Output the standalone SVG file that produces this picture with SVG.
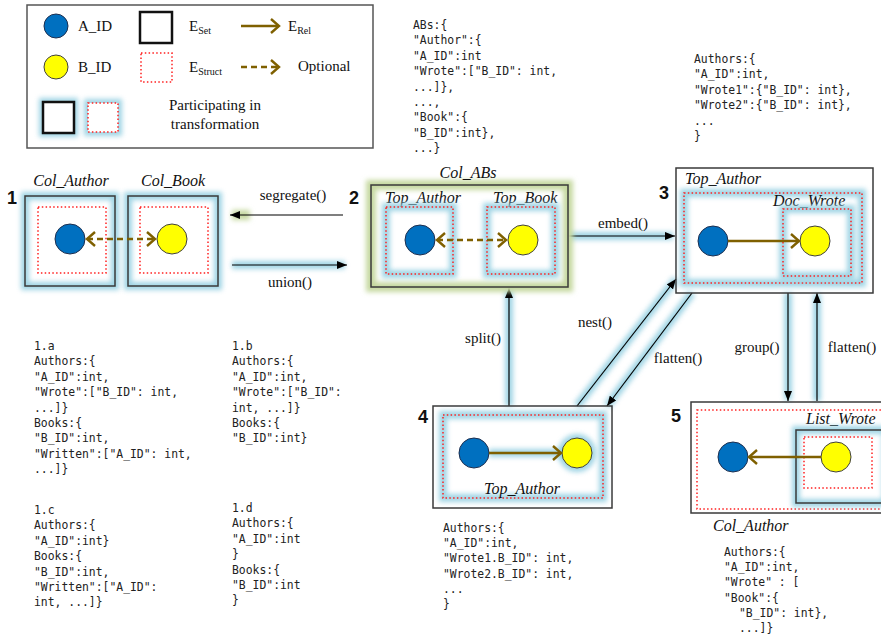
<svg xmlns="http://www.w3.org/2000/svg" width="881" height="638" viewBox="0 0 881 638">
<style>
.glow{fill:none;stroke:#8FCDE0;stroke-width:8;filter:url(#blur);opacity:0.85}
.gglow{fill:none;stroke:#C6D9A0;stroke-width:10;filter:url(#blur)}
.set{fill:none;stroke:#3A3A3A;stroke-width:1.5}
.struct{fill:none;stroke:#FF2020;stroke-width:1.5;stroke-dasharray:1.5 2.3}
.a{fill:#0070C0;stroke:#1F2F4F;stroke-width:1}
.b{fill:#FFFF00;stroke:#404040;stroke-width:1}
.rel{stroke:#7F6000;stroke-width:2.4;fill:none;marker-end:url(#chev)}
.opt{stroke-dasharray:6 4;marker-start:url(#chev)}
.conn{stroke:#000;stroke-width:1.2;fill:none;marker-end:url(#ah)}
.lbl{font-family:"Liberation Serif",serif;font-size:15px;fill:#111}
.it{font-family:"Liberation Serif",serif;font-style:italic;font-size:16px;fill:#111}
.num{font-family:"Liberation Sans",sans-serif;font-weight:bold;font-size:18px;fill:#111}
.code{font-family:"DejaVu Sans Mono",monospace;font-size:11.4px;fill:#222}
</style>
<defs>
<filter id="blur" filterUnits="userSpaceOnUse" x="0" y="0" width="881" height="638"><feGaussianBlur stdDeviation="2.8"/></filter>
<marker id="ah" markerUnits="userSpaceOnUse" markerWidth="10" markerHeight="8" refX="10" refY="4" orient="auto"><path d="M0,0 L10,4 L0,8 z" fill="#000"/></marker>
<marker id="chev" markerUnits="userSpaceOnUse" markerWidth="12" markerHeight="16" refX="9" refY="8" orient="auto-start-reverse"><path d="M1,1 L9,8 L1,15" fill="none" stroke="#7F6000" stroke-width="2.4"/></marker>
</defs>

<g id="legend">
<rect x="27" y="5" width="346" height="143" fill="#fff" stroke="#555" stroke-width="1.5"/>
<circle class="a" cx="56" cy="26" r="12"/>
<text class="lbl" x="78" y="31" font-size="16">A_ID</text>
<circle class="b" cx="56" cy="67" r="12"/>
<text class="lbl" x="78" y="72" font-size="16">B_ID</text>
<rect x="140" y="12" width="32" height="31" fill="none" stroke="#111" stroke-width="2.5"/>
<text class="lbl" x="189" y="31" font-size="16">E<tspan font-size="10" dy="3">Set</tspan></text>
<rect class="struct" x="141" y="53" width="31" height="29"/>
<text class="lbl" x="189" y="72" font-size="16">E<tspan font-size="10" dy="3">Struct</tspan></text>
<line class="rel" x1="241" y1="26" x2="279" y2="26"/>
<text class="lbl" x="288" y="31" font-size="16">E<tspan font-size="10" dy="3">Rel</tspan></text>
<line class="rel" x1="241" y1="67" x2="279" y2="67" stroke-dasharray="6 4"/>
<text class="lbl" x="298" y="71" font-size="16">Optional</text>
<rect class="glow" x="43" y="102" width="31" height="31"/>
<rect x="43" y="102" width="31" height="31" fill="#fff" stroke="#111" stroke-width="2.5"/>
<rect class="glow" x="88" y="103" width="30" height="29"/>
<rect x="88" y="103" width="30" height="29" fill="#fff"/>
<rect class="struct" x="88" y="103" width="30" height="29"/>
<text class="lbl" x="215" y="110" font-size="16" text-anchor="middle">Participating in</text>
<text class="lbl" x="215" y="129" font-size="16" text-anchor="middle">transformation</text>
</g>

<g id="connectors">
<line class="gglow" x1="232" y1="215" x2="250" y2="215"/>
<line class="conn" x1="343" y1="215" x2="230" y2="215"/>
<line class="glow" x1="232" y1="265" x2="345" y2="265" stroke-width="6"/>
<line class="conn" x1="232" y1="265" x2="347" y2="265"/>
<line class="glow" x1="568" y1="236" x2="673" y2="236" stroke-width="6"/>
<line class="conn" x1="568" y1="236" x2="675" y2="236"/>
<line class="glow" x1="509" y1="406" x2="509" y2="289"/>
<line class="conn" x1="509" y1="406" x2="509" y2="288"/>
<line class="glow" x1="577" y1="406" x2="676" y2="279"/>
<line class="conn" x1="577" y1="406" x2="676" y2="279"/>
<line class="glow" x1="692" y1="293" x2="607" y2="406"/>
<line class="conn" x1="692" y1="293" x2="607" y2="406"/>
<line class="glow" x1="788" y1="293" x2="788" y2="400"/>
<line class="conn" x1="788" y1="293" x2="788" y2="401"/>
<line class="glow" x1="817" y1="401" x2="817" y2="294"/>
<line class="conn" x1="817" y1="401" x2="817" y2="293"/>
<text class="lbl" x="293" y="200" text-anchor="middle">segregate()</text>
<text class="lbl" x="290" y="287" text-anchor="middle">union()</text>
<text class="lbl" x="623" y="228" text-anchor="middle">embed()</text>
<text class="lbl" x="483" y="343" text-anchor="middle">split()</text>
<text class="lbl" x="595" y="327" text-anchor="middle">nest()</text>
<text class="lbl" x="678" y="363" text-anchor="middle">flatten()</text>
<text class="lbl" x="757" y="352" text-anchor="middle">group()</text>
<text class="lbl" x="852" y="352" text-anchor="middle">flatten()</text>
</g>

<g id="node1">
<text class="num" x="7" y="204">1</text>
<rect class="glow" x="25" y="196" width="90" height="90"/>
<rect x="25" y="196" width="90" height="90" fill="none" class="set"/>
<rect class="struct" x="38" y="207" width="68" height="66"/>
<rect class="glow" x="128" y="196" width="90" height="90"/>
<rect x="128" y="196" width="90" height="90" class="set"/>
<rect class="struct" x="140" y="207" width="68" height="66"/>
<circle class="a" cx="70" cy="239" r="15"/>
<circle class="b" cx="172" cy="239" r="15"/>
<line class="rel opt" x1="87" y1="239" x2="155" y2="239"/>
<text class="it" x="71" y="186" text-anchor="middle">Col_Author</text>
<text class="it" x="173" y="186" text-anchor="middle">Col_Book</text>
</g>

<g id="node2">
<text class="num" x="349" y="204">2</text>
<rect class="gglow" x="371" y="185" width="197" height="102"/>
<rect x="371" y="185" width="197" height="102" class="set"/>
<text class="it" x="468" y="178" text-anchor="middle">Col_ABs</text>
<text class="it" x="385" y="203" font-size="15">Top_Author</text>
<text class="it" x="493" y="203" font-size="15">Top_Book</text>
<rect class="glow" x="386" y="207" width="67" height="67"/>
<rect class="struct" x="386" y="207" width="67" height="67"/>
<rect class="glow" x="487" y="207" width="68" height="67"/>
<rect class="struct" x="487" y="207" width="68" height="67"/>
<circle class="a" cx="420" cy="240" r="15"/>
<circle class="b" cx="523" cy="240" r="15"/>
<line class="rel opt" x1="437" y1="240" x2="506" y2="240"/>
</g>

<g id="node3">
<text class="num" x="659" y="199">3</text>
<rect x="676" y="168" width="197" height="125" class="set"/>
<text class="it" x="685" y="184">Top_Author</text>
<rect class="glow" x="684" y="193" width="178" height="90"/>
<rect class="struct" x="684" y="193" width="178" height="90"/>
<text class="it" x="773" y="206">Doc_Wrote</text>
<rect class="glow" x="783" y="209" width="68" height="67"/>
<rect class="struct" x="783" y="209" width="68" height="67"/>
<circle class="a" cx="713" cy="241" r="15"/>
<circle class="b" cx="815" cy="241" r="15"/>
<line class="rel" x1="728" y1="241" x2="799" y2="241"/>
</g>

<g id="node4">
<text class="num" x="418" y="423">4</text>
<rect x="433" y="406" width="179" height="102" class="set"/>
<rect class="glow" x="443" y="415" width="160" height="83"/>
<rect class="struct" x="443" y="415" width="160" height="83"/>
<line class="glow" x1="489" y1="453" x2="577" y2="453" stroke-width="7"/>
<circle class="glow" cx="577" cy="453" r="15" stroke-width="7"/>
<circle class="a" cx="474" cy="453" r="15"/>
<circle class="b" cx="577" cy="453" r="15"/>
<line class="rel" x1="489" y1="453" x2="561" y2="453"/>
<text class="it" x="522" y="494" text-anchor="middle">Top_Author</text>
</g>

<g id="node5">
<text class="num" x="671" y="422">5</text>
<rect x="691" y="402" width="196" height="111" class="set"/>
<rect class="struct" x="697" y="410" width="190" height="99"/>
<text class="it" x="806" y="424">List_Wrote</text>
<rect class="glow" x="796" y="430" width="90" height="73"/>
<rect x="796" y="430" width="90" height="73" class="set"/>
<rect class="struct" x="804" y="437" width="68" height="51"/>
<circle class="a" cx="733" cy="457" r="15"/>
<circle class="b" cx="836" cy="457" r="15"/>
<line class="rel" x1="821" y1="457" x2="749" y2="457"/>
<text class="it" x="713" y="531">Col_Author</text>
</g>

<g id="schemas" class="code">
<text x="413" y="29"><tspan x="413">ABs:{</tspan><tspan x="413" dy="15.4">"Author":{</tspan><tspan x="413" dy="15.4">"A_ID":int</tspan><tspan x="413" dy="15.4">"Wrote":["B_ID": int,</tspan><tspan x="413" dy="15.4">...]},</tspan><tspan x="413" dy="15.4">...,</tspan><tspan x="413" dy="15.4">"Book":{</tspan><tspan x="413" dy="15.4">"B_ID":int},</tspan><tspan x="413" dy="15.4">...}</tspan></text>
<text x="694" y="63"><tspan x="694">Authors:{</tspan><tspan x="694" dy="15.4">"A_ID":int,</tspan><tspan x="694" dy="15.4">"Wrote1":{"B_ID": int},</tspan><tspan x="694" dy="15.4">"Wrote2":{"B_ID": int},</tspan><tspan x="694" dy="15.4">...</tspan><tspan x="694" dy="15.4">}</tspan></text>
<text x="34" y="350"><tspan x="34">1.a</tspan><tspan x="34" dy="15.4">Authors:{</tspan><tspan x="34" dy="15.4">"A_ID":int,</tspan><tspan x="34" dy="15.4">"Wrote":["B_ID": int,</tspan><tspan x="34" dy="15.4">...]}</tspan><tspan x="34" dy="15.4">Books:{</tspan><tspan x="34" dy="15.4">"B_ID":int,</tspan><tspan x="34" dy="15.4">"Written":["A_ID": int,</tspan><tspan x="34" dy="15.4">...]}</tspan></text>
<text x="232" y="350"><tspan x="232">1.b</tspan><tspan x="232" dy="15.4">Authors:{</tspan><tspan x="232" dy="15.4">"A_ID":int,</tspan><tspan x="232" dy="15.4">"Wrote":["B_ID":</tspan><tspan x="232" dy="15.4">int, ...]}</tspan><tspan x="232" dy="15.4">Books:{</tspan><tspan x="232" dy="15.4">"B_ID":int}</tspan></text>
<text x="34" y="514"><tspan x="34">1.c</tspan><tspan x="34" dy="15.4">Authors:{</tspan><tspan x="34" dy="15.4">"A_ID":int}</tspan><tspan x="34" dy="15.4">Books:{</tspan><tspan x="34" dy="15.4">"B_ID":int,</tspan><tspan x="34" dy="15.4">"Written":["A_ID":</tspan><tspan x="34" dy="15.4">int, ...]}</tspan></text>
<text x="232" y="512"><tspan x="232">1.d</tspan><tspan x="232" dy="15.4">Authors:{</tspan><tspan x="232" dy="15.4">"A_ID":int</tspan><tspan x="232" dy="15.4">}</tspan><tspan x="232" dy="15.4">Books:{</tspan><tspan x="232" dy="15.4">"B_ID":int</tspan><tspan x="232" dy="15.4">}</tspan></text>
<text x="443" y="532"><tspan x="443">Authors:{</tspan><tspan x="443" dy="15.2">"A_ID":int,</tspan><tspan x="443" dy="15.2">"Wrote1.B_ID": int,</tspan><tspan x="443" dy="15.2">"Wrote2.B_ID": int,</tspan><tspan x="443" dy="15.2">...</tspan><tspan x="443" dy="15.2">}</tspan></text>
<text x="724" y="556"><tspan x="724">Authors:{</tspan><tspan x="724" dy="15.2">"A_ID":int,</tspan><tspan x="724" dy="15.2">"Wrote" : [</tspan><tspan x="724" dy="15.2">"Book":{</tspan><tspan x="739" dy="15.2">"B_ID": int},</tspan><tspan x="739" dy="15.2">...]}</tspan></text>
</g>
</svg>
